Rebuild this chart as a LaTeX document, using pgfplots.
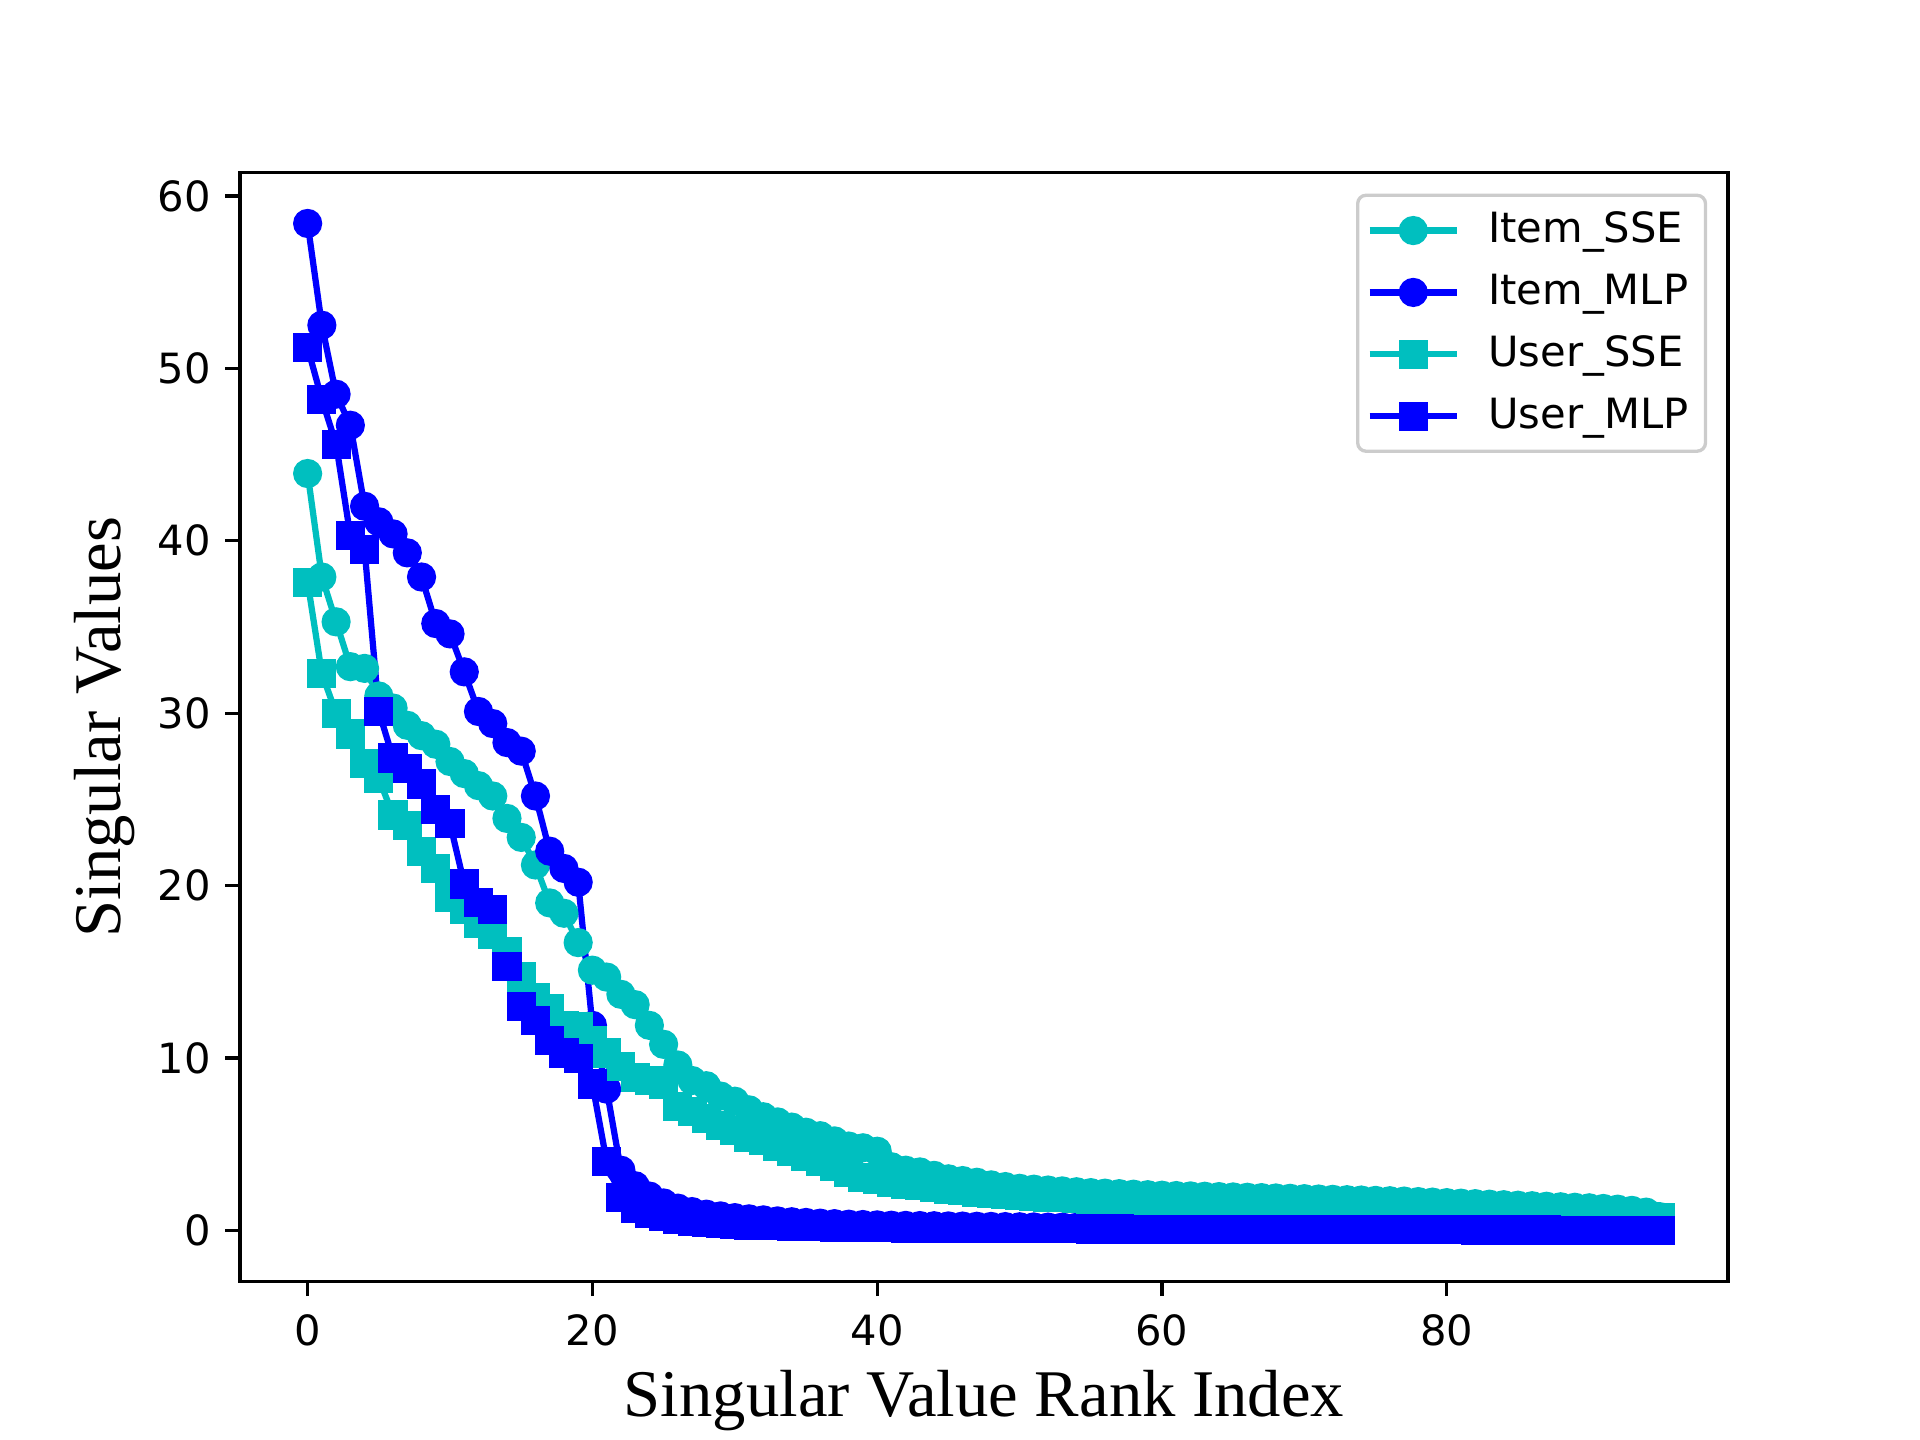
\documentclass[border=0pt]{standalone}
\usepackage{fontspec}
\setmainfont{DejaVu Sans}
\newfontfamily\timesfont{Liberation Serif}
\usepackage{pgfplots}
\usepackage{pgfplotstable}
\pgfplotsset{compat=1.18}
\definecolor{mplc}{rgb}{0,0.75,0.75}
\definecolor{mplb}{rgb}{0,0,1}
\pgfplotstableread{
i isse imlp usse umlp
0 43.9 58.4 37.6 51.2
1 37.9 52.5 32.3 48.2
2 35.3 48.5 30.0 45.6
3 32.7 46.7 28.8 40.3
4 32.6 42.0 27.1 39.5
5 31.0 41.1 26.2 30.1
6 30.3 40.4 24.1 27.4
7 29.3 39.3 23.5 26.8
8 28.7 37.9 22.0 25.9
9 28.2 35.2 21.0 24.4
10 27.2 34.6 19.3 23.6
11 26.5 32.4 18.6 20.1
12 25.8 30.1 17.8 19.0
13 25.2 29.4 17.2 18.6
14 23.9 28.3 16.2 15.3
15 22.8 27.8 14.7 13.0
16 21.2 25.2 13.5 12.2
17 19.0 22.0 12.9 11.0
18 18.4 21.0 11.9 10.3
19 16.7 20.2 11.8 10.0
20 15.1 11.9 11.0 8.5
21 14.7 8.2 10.3 4.0
22 13.7 3.5 9.5 1.9
23 13.1 2.6 8.9 1.3
24 11.9 2.0 8.7 1.0
25 10.8 1.6 8.5 0.8
26 9.6 1.3 7.2 0.65
27 8.7 1.1 6.9 0.55
28 8.4 0.95 6.5 0.47
29 7.8 0.85 6.1 0.40
30 7.5 0.75 5.8 0.35
31 7.0 0.68 5.4 0.32
32 6.6 0.62 5.2 0.30
33 6.3 0.56 4.9 0.28
34 6.0 0.51 4.6 0.26
35 5.7 0.47 4.3 0.24
36 5.5 0.43 4.0 0.22
37 5.2 0.40 3.7 0.20
38 4.9 0.37 3.4 0.19
39 4.8 0.35 3.1 0.18
40 4.6 0.33 2.95 0.17
41 3.7 0.31 2.8 0.16
42 3.5 0.30 2.7 0.15
43 3.4 0.29 2.6 0.15
44 3.2 0.28 2.5 0.14
45 3.0 0.27 2.4 0.14
46 2.9 0.26 2.3 0.13
47 2.8 0.25 2.2 0.13
48 2.65 0.24 2.15 0.12
49 2.55 0.23 2.1 0.12
50 2.45 0.22 2.05 0.11
51 2.4 0.21 2.0 0.11
52 2.35 0.20 1.95 0.10
53 2.3 0.20 1.9 0.10
54 2.25 0.19 1.85 0.10
55 2.2 0.19 1.8 0.09
56 2.17 0.18 1.77 0.09
57 2.14 0.18 1.75 0.09
58 2.11 0.17 1.72 0.08
59 2.08 0.17 1.70 0.08
60 2.05 0.16 1.67 0.08
61 2.03 0.16 1.65 0.08
62 2.01 0.15 1.62 0.07
63 1.99 0.15 1.60 0.07
64 1.97 0.14 1.57 0.07
65 1.95 0.14 1.55 0.07
66 1.93 0.13 1.52 0.06
67 1.91 0.13 1.50 0.06
68 1.89 0.12 1.47 0.06
69 1.87 0.12 1.45 0.06
70 1.85 0.11 1.42 0.06
71 1.83 0.11 1.40 0.05
72 1.81 0.10 1.37 0.05
73 1.79 0.10 1.35 0.05
74 1.77 0.10 1.32 0.05
75 1.75 0.09 1.30 0.05
76 1.73 0.09 1.27 0.04
77 1.71 0.09 1.25 0.04
78 1.68 0.08 1.22 0.04
79 1.65 0.08 1.20 0.04
80 1.62 0.08 1.17 0.04
81 1.59 0.07 1.15 0.04
82 1.56 0.07 1.12 0.03
83 1.53 0.07 1.10 0.03
84 1.50 0.07 1.07 0.03
85 1.47 0.06 1.05 0.03
86 1.44 0.06 1.02 0.03
87 1.41 0.06 1.00 0.03
88 1.38 0.06 0.97 0.02
89 1.35 0.05 0.95 0.02
90 1.32 0.05 0.92 0.02
91 1.28 0.05 0.90 0.02
92 1.24 0.05 0.87 0.02
93 1.17 0.05 0.85 0.02
94 1.07 0.05 0.82 0.01
95 0.80 0.04 0.75 0.01
}\datatable
\begin{document}
\begin{tikzpicture}
\useasboundingbox (-57.6pt,-38.016pt) rectangle (403.2pt,307.584pt);
\begin{axis}[
  at={(0,0)}, anchor=south west,
  scale only axis, width=357.12pt, height=266.11pt,
  xmin=-4.75, xmax=99.75, ymin=-2.96, ymax=61.34,
  xtick={0,20,40,60,80}, ytick={0,10,20,30,40,50,60},
  xtick pos=bottom, ytick pos=left,
  tick align=outside, major tick length=3.5pt,
  tick style={black, line width=0.8pt},
  axis line style={line width=0.8pt},
  tick label style={font=\fontsize{10}{12}\selectfont},
  /pgf/number format/assume math mode=true,
  xticklabel style={yshift=-1pt},
  every axis x label/.style={at={(axis description cs:0.5,-0.107)}, anchor=center},
  every axis y label/.style={at={(axis description cs:-0.0907,0.5)}, rotate=90, anchor=center},
  xlabel={\timesfont\fontsize{16}{19}\selectfont Singular Value Rank Index},
  ylabel={\timesfont\fontsize{16}{19}\selectfont Singular Values},
  legend style={at={(1,1)}, anchor=north east, xshift=-5pt, yshift=-5pt,
    font=\fontsize{10}{12}\selectfont, draw=black!20, line width=0.8pt, rounded corners=2pt,
    fill=white, row sep=2.0pt,
    inner xsep=2.1pt, inner ysep=2pt},
  legend cell align=left,
  legend image code/.code={\draw[mark repeat=2,mark phase=2] plot coordinates {(0pt,0pt) (10.5pt,0pt) (21pt,0pt)}; \path (25.75pt,0pt);},
]
\addplot[color=mplc, line width=1.5pt, mark=*, mark size=3pt, mark options={solid, line width=1pt}] table[x=i,y=isse] {\datatable};
\addlegendentry{Item\_SSE}
\addplot[color=mplb, line width=1.5pt, mark=*, mark size=3pt, mark options={solid, line width=1pt}] table[x=i,y=imlp] {\datatable};
\addlegendentry{Item\_MLP}
\addplot[color=mplc, line width=1.5pt, mark=square*, mark size=3pt, mark options={solid, line width=1pt}] table[x=i,y=usse] {\datatable};
\addlegendentry{User\_SSE}
\addplot[color=mplb, line width=1.5pt, mark=square*, mark size=3pt, mark options={solid, line width=1pt}] table[x=i,y=umlp] {\datatable};
\addlegendentry{User\_MLP}
\end{axis}
\end{tikzpicture}
\end{document}
